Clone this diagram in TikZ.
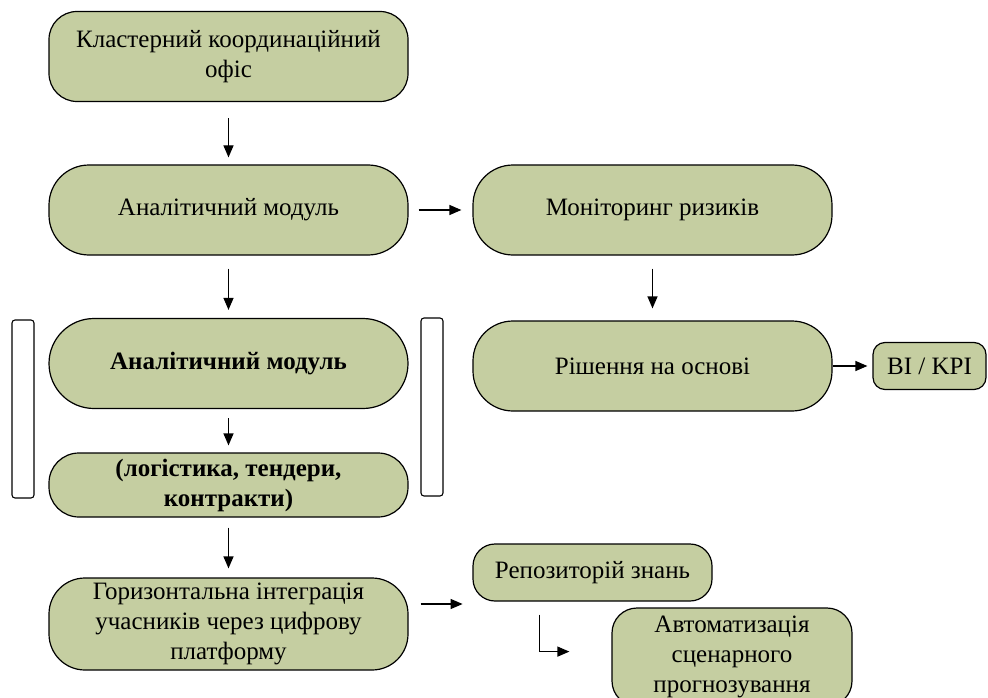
\documentclass[tikz,border=0pt]{standalone}
\usepackage{fontspec}
\setmainfont{Liberation Serif}
\usepackage{tikz}
\usetikzlibrary{arrows.meta}
\definecolor{boxolive}{RGB}{197,206,161}

\begin{document}
\begin{tikzpicture}[x=1pt,y=-1pt,
		blk/.style={draw=black, line width=1.2pt, fill=boxolive, align=center, inner sep=0pt,
			font=\fontsize{25}{30}\selectfont},
		wide/.style={blk, minimum width=359pt, minimum height=90pt},
		sidebar/.style={draw=black, line width=1.1pt, fill=white, rounded corners=3pt, inner sep=0pt,
			minimum width=22pt, minimum height=178pt},
		arr/.style={line width=1.2pt, -{Triangle[length=12pt,width=10pt]}}]
	\useasboundingbox (0,0) rectangle (988,698);
	
	% Left column
	\node[wide, rounded corners=28pt] (ofis) at (228.5,56.5) {Кластерний координаційний\\офіс};
	\node[wide, rounded corners=40pt] (modul) at (228.5,210) {Аналітичний модуль};
	\node[wide, rounded corners=45pt, font=\fontsize{25}{30}\selectfont\bfseries] (amodul) at (228.5,363.5) {Аналітичний модуль};
	\node[blk, minimum width=359pt, minimum height=64pt, rounded corners=30pt,
		font=\fontsize{25}{30}\selectfont\bfseries] (logist) at (228.5,485) {(логістика, тендери,\\контракти)};
	\node[wide, rounded corners=36pt, minimum height=92pt] (horiz) at (228.5,624) {Горизонтальна інтеграція\\учасників через цифрову\\платформу};
	
	% Side bars
	\node[sidebar] (barL) at (23,409) {};
	\node[sidebar] (barR) at (432,407) {};
	
	% Right column
	\node[wide, rounded corners=40pt] (monit) at (652.5,210) {Моніторинг ризиків};
	\node[wide, rounded corners=40pt] (rishen) at (652.5,366) {Рішення на основі};
	\node[blk, minimum width=113pt, minimum height=47pt, rounded corners=12pt] (bikpi) at (929.5,366) {BI / KPI};
	\node[blk, minimum width=239pt, minimum height=57pt, rounded corners=22pt] (repoz) at (592.5,572.5) {Репозиторій знань};
	\node[blk, minimum width=240pt, minimum height=98pt, rounded corners=25pt] (avtom) at (732,657) {Автоматизація\\сценарного\\прогнозування};
	
	% Arrows
	\draw[arr, shorten <=16pt, shorten >=7pt] (ofis.south) -- (modul.north);
	\draw[arr, shorten <=10pt, shorten >=11pt] (modul.east) -- (monit.west);
	\draw[arr, shorten <=13pt, shorten >=8pt] (modul.south) -- (amodul.north);
	\draw[arr, shorten <=13pt, shorten >=12pt] (monit.south) -- (rishen.north);
	\draw[arr, shorten <=9pt, shorten >=7pt] (amodul.south) -- (logist.north);
	\draw[arr, shorten <=10pt, shorten >=9pt] (logist.south) -- (horiz.north);
	\draw[arr, shorten >=5pt] (rishen.east) -- (bikpi.west);
	\draw[arr] (horiz.east) ++(12,-20) -- ++(42,0);
	\draw[arr] (repoz.south west) ++(67,13) |- ++(30,37);
\end{tikzpicture}
\end{document}
